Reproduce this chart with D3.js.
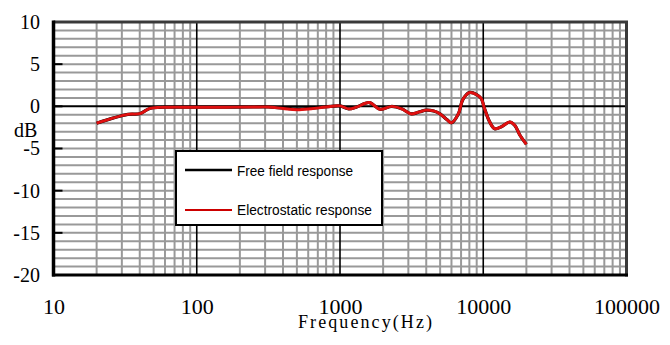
<!DOCTYPE html>
<html><head><meta charset="utf-8">
<script src="https://cdn.jsdelivr.net/npm/d3@7"></script>
<style>html,body{margin:0;padding:0;background:#fff;} svg{display:block}</style>
</head><body><svg id="c" width="670" height="345"></svg>
<script>
// ---- data ----
const freqHz = [20, 33, 40, 47, 55, 63, 80, 100, 160, 250, 315, 400, 500, 630, 800, 1000, 1150, 1300, 1600, 1900, 2300, 2700, 3150, 3600, 4000, 4500, 5000, 5600, 6000, 6700, 7200, 8000, 9000, 9700, 10200, 11100, 12000, 13400, 15300, 16600, 18000, 20000];
const electrostaticDb = [-2.0, -0.95, -0.87, -0.25, -0.12, -0.1, -0.1, -0.1, -0.1, -0.08, -0.08, -0.25, -0.4, -0.28, -0.08, 0.05, -0.3, -0.1, 0.45, -0.35, 0.0, -0.3, -0.9, -0.65, -0.45, -0.55, -0.9, -1.6, -1.95, -0.9, 0.8, 1.62, 1.38, 0.9, -0.25, -1.86, -2.65, -2.42, -1.86, -2.25, -3.4, -4.5];
const freeFieldDb = [-2.0, -0.95, -0.87, -0.25, -0.12, -0.1, -0.1, -0.1, -0.1, -0.08, -0.08, -0.2, -0.3, -0.22, -0.05, 0.05, -0.3, -0.1, 0.45, -0.35, 0.0, -0.3, -0.9, -0.65, -0.45, -0.55, -0.9, -1.6, -1.95, -0.9, 0.8, 1.65, 1.4, 0.9, -0.25, -1.86, -2.65, -2.42, -1.86, -2.25, -3.4, -4.5];
const xTickLabels = [10, 100, 1000, 10000, 100000];
const yTickLabels = [10, 5, 0, -5, -10, -15, -20];
const seriesNames = ["Free field response", "Electrostatic response"];
const seriesColors = ["#000000", "#cc0000"];
const xTitle = "Frequency(Hz)";
const yTitle = "dB";

// ---- layout ----
const svg = d3.select("#c");
const L = 53.5, R = 626.5, T = 22, B = 275;
const x = d3.scaleLog().domain([10, 100000]).range([L, R]);
const y = d3.scaleLinear().domain([-20, 10]).range([B, T]);

const grid = svg.append("g");
// minor vertical
grid.selectAll("line.vx").data(x.ticks().filter(f => xTickLabels.indexOf(f) < 0))
  .join("line").attr("x1", d => x(d)).attr("x2", d => x(d)).attr("y1", T).attr("y2", B)
  .attr("stroke", "#999").attr("stroke-width", 2);
// minor horizontal
grid.selectAll("line.hy").data(d3.range(-19, 10, 1).filter(v => v !== 0))
  .join("line").attr("x1", L).attr("x2", R).attr("y1", d => y(d)).attr("y2", d => y(d))
  .attr("stroke", "#999").attr("stroke-width", 2);
// decade lines
svg.append("g").selectAll("line").data(xTickLabels.slice(1, -1))
  .join("line").attr("x1", d => x(d)).attr("x2", d => x(d)).attr("y1", T).attr("y2", B)
  .attr("stroke", "#000").attr("stroke-width", 1.6);
// zero line
svg.append("line").attr("x1", L).attr("x2", R).attr("y1", y(0)).attr("y2", y(0))
  .attr("stroke", "#000").attr("stroke-width", 2);
// y ticks inside
svg.append("g").selectAll("line").data(yTickLabels)
  .join("line").attr("x1", L).attr("x2", L + 9).attr("y1", d => y(d)).attr("y2", d => y(d))
  .attr("stroke", "#000").attr("stroke-width", 2);

// curves
const line = d3.line().x(d => x(d[0])).y(d => y(d[1])).curve(d3.curveCatmullRom.alpha(0.5));
svg.append("path").datum(freqHz.map((f, i) => [f, freeFieldDb[i]]))
  .attr("d", line).attr("fill", "none").attr("stroke", seriesColors[0]).attr("stroke-width", 3.2)
  .attr("stroke-linejoin", "round");
svg.append("path").datum(freqHz.map((f, i) => [f, electrostaticDb[i]]))
  .attr("d", line).attr("fill", "none").attr("stroke", "#e01010").attr("stroke-width", 2.9)
  .attr("stroke-linejoin", "round");

// frame
svg.append("line").attr("x1", L).attr("x2", R + 1.5).attr("y1", T).attr("y2", T).attr("stroke", "#3a3a3a").attr("stroke-width", 3);
svg.append("line").attr("x1", R).attr("x2", R).attr("y1", T).attr("y2", B + 1.5).attr("stroke", "#3a3a3a").attr("stroke-width", 3);
svg.append("line").attr("x1", L - 1.5).attr("x2", R + 1.5).attr("y1", B).attr("y2", B).attr("stroke", "#000").attr("stroke-width", 3.2);
svg.append("line").attr("x1", L).attr("x2", L).attr("y1", T - 1.5).attr("y2", B + 1.5).attr("stroke", "#000").attr("stroke-width", 3.5);

// axes labels
const yAxis = svg.append("g").attr("transform", `translate(${L},0)`)
  .call(d3.axisLeft(y).tickValues(yTickLabels).tickSize(0).tickPadding(13.5).tickFormat(d => String(d)));
yAxis.select(".domain").remove();
yAxis.selectAll("text").attr("font-family", "'Liberation Serif', serif").attr("font-size", 20).attr("fill", "#000");

const xAxis = svg.append("g").attr("transform", `translate(0,${B})`)
  .call(d3.axisBottom(x).tickValues(xTickLabels).tickSize(0).tickPadding(23.4).tickFormat(d => String(d)));
xAxis.select(".domain").remove();
xAxis.selectAll("text").attr("font-family", "'Liberation Serif', serif").attr("font-size", 22).attr("fill", "#000");

svg.append("text").attr("x", 14).attr("y", 137).text(yTitle)
  .attr("font-family", "'Liberation Serif', serif").attr("font-size", 20);
svg.append("text").attr("x", 298).attr("y", 328).text(xTitle)
  .attr("font-family", "'Liberation Serif', serif").attr("font-size", 18)
  .attr("textLength", 134).attr("lengthAdjust", "spacing");

// legend
const lg = svg.append("g");
lg.append("rect").attr("x", 176).attr("y", 151).attr("width", 206).attr("height", 74)
  .attr("fill", "#fff").attr("stroke", "#000").attr("stroke-width", 2);
const legY = [170, 210], legBase = [175.5, 214.5], legLen = [116, 135];
seriesNames.forEach((n, i) => {
  lg.append("line").attr("x1", 185).attr("x2", 232).attr("y1", legY[i]).attr("y2", legY[i])
    .attr("stroke", seriesColors[i]).attr("stroke-width", i === 0 ? 2.6 : 2.2);
  lg.append("text").attr("x", 237).attr("y", legBase[i]).text(n)
    .attr("font-family", "'Liberation Sans', Arial, sans-serif").attr("font-size", 15.5)
    .attr("textLength", legLen[i]).attr("lengthAdjust", "spacingAndGlyphs");
});
</script>
</body></html>
